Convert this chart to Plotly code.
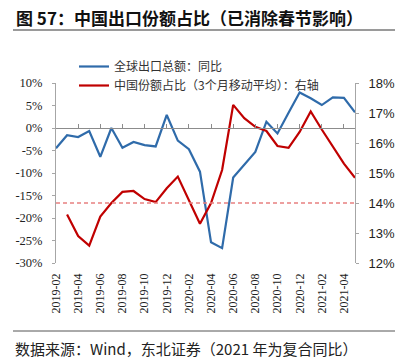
import plotly.graph_objects as go

months = ["2019-02","2019-03","2019-04","2019-05","2019-06","2019-07","2019-08","2019-09","2019-10","2019-11","2019-12",
          "2020-01","2020-02","2020-03","2020-04","2020-05","2020-06","2020-07","2020-08","2020-09","2020-10","2020-11","2020-12",
          "2021-01","2021-02","2021-03","2021-04","2021-05"]
global_export_yoy = [-4.5, -1.6, -2.0, -0.7, -6.4, 0.0, -4.4, -3.1, -3.8, -4.1, 2.9,
                     -2.8, -4.7, -9.7, -25.4, -26.7, -11.0, -8.1, -5.3, 1.4, -1.2, 3.4, 7.9,
                     6.6, 5.1, 6.8, 6.7, 3.5]
china_share_3mma = [None, 13.62, 12.90, 12.58, 13.55, 14.0, 14.37, 14.40, 14.13, 14.03, 14.49,
                    14.88, 14.08, 13.31, 14.0, 15.1, 17.27, 16.83, 16.54, 16.40, 15.90, 15.84, 16.37,
                    17.05, 16.45, 15.88, 15.31, 14.84]
tick_months = months[0:27:2]
threshold_right = 14.0
left_ticks = [10, 5, 0, -5, -10, -15, -20, -25, -30]
right_ticks = [18, 17, 16, 15, 14, 13, 12]

name_blue = "全球出口总额：同比"
name_red = "中国份额占比（3个月移动平均）：右轴"
title_text = "<b>图 57：中国出口份额占比（已消除春节影响）</b>"
source_text = "数据来源：Wind，东北证券（2021 年为复合同比）"

W, H = 408, 359
L, R, T, B = 56, 355, 83, 263
def px(x): return (x - L) / (R - L)
def py(y): return (B - y) / (B - T)

BLUE = "#2F6BAA"
RED = "#C00000"
GREY = "#A6A6A6"

fig = go.Figure()
fig.add_trace(go.Scatter(x=months, y=global_export_yoy, name=name_blue, mode="lines",
                         line=dict(color=BLUE, width=2.2), xaxis="x", yaxis="y"))
fig.add_trace(go.Scatter(x=months, y=china_share_3mma, name=name_red, mode="lines",
                         line=dict(color=RED, width=2.2), xaxis="x", yaxis="y2"))
# invisible trace to carry the bottom label axis
fig.add_trace(go.Scatter(x=months, y=global_export_yoy, mode="lines", showlegend=False,
                         line=dict(width=0), opacity=0, hoverinfo="skip", xaxis="x2", yaxis="y"))

fig.add_shape(type="line", xref="paper", x0=0, x1=1, yref="y2", y0=threshold_right, y1=threshold_right,
              line=dict(color="#E88080", width=1.4, dash="4px,3px"))

# title and source decorations
fig.add_annotation(text=title_text, xref="paper", yref="paper", x=px(14), y=py(18), xanchor="left", yanchor="middle",
                   showarrow=False, font=dict(family="Noto Sans CJK SC", size=17, color="#111"))
fig.add_shape(type="line", xref="paper", yref="paper", x0=px(13), x1=px(395), y0=py(30), y1=py(30),
              line=dict(color="#9a9a9a", width=2))
fig.add_shape(type="line", xref="paper", yref="paper", x0=px(13), x1=px(395), y0=py(331), y1=py(331),
              line=dict(color="#555", width=1))
fig.add_annotation(text=source_text, xref="paper", yref="paper", x=px(13), y=py(348), xanchor="left", yanchor="middle",
                   showarrow=False, font=dict(family="Noto Sans CJK SC", size=15, color="#222"))

fig.update_layout(
    width=W, height=H,
    margin=dict(l=L, r=W - R, t=T, b=H - B),
    paper_bgcolor="white", plot_bgcolor="white",
    showlegend=True,
    legend=dict(x=px(74), y=py(52), xanchor="left", yanchor="top", bgcolor="rgba(0,0,0,0)",
                font=dict(family="Noto Sans CJK SC", size=12, color="#333"), tracegroupgap=0,
                itemwidth=30),
    xaxis=dict(type="category", range=[0, len(months) - 1], anchor="free", position=0.75,
               showline=True, linecolor="#8c8c8c", linewidth=1, ticks="inside", ticklen=4,
               tickcolor="#8c8c8c", tickvals=tick_months, showticklabels=False, showgrid=False, zeroline=False),
    xaxis2=dict(type="category", overlaying="x", matches="x", anchor="y", side="bottom",
                showline=False, ticks="", tickvals=tick_months, ticktext=tick_months, tickangle=-90,
                ticklabelstandoff=7, showgrid=False, zeroline=False,
                tickfont=dict(family="Liberation Serif", size=12, color="#222")),
    yaxis=dict(range=[-30, 10], tickvals=left_ticks, ticktext=[f"{v}%" for v in left_ticks],
               showline=True, linecolor=GREY, linewidth=1, ticks="outside", ticklen=3, tickcolor=GREY,
               showgrid=False, zeroline=False, ticklabelstandoff=7,
               tickfont=dict(family="Liberation Serif", size=12.5, color="#222")),
    yaxis2=dict(range=[12, 18], overlaying="y", side="right", anchor="x", tickvals=right_ticks,
                ticktext=[f"{v}%" for v in right_ticks],
                showline=True, linecolor=GREY, linewidth=1, ticks="outside", ticklen=3, tickcolor=GREY,
                showgrid=False, zeroline=False, ticklabelstandoff=7,
                tickfont=dict(family="Liberation Sans", size=13, color="#222")),
)

fig.write_html("out.html", config={"displayModeBar": False},
               post_script="document.body.style.margin='0';")
